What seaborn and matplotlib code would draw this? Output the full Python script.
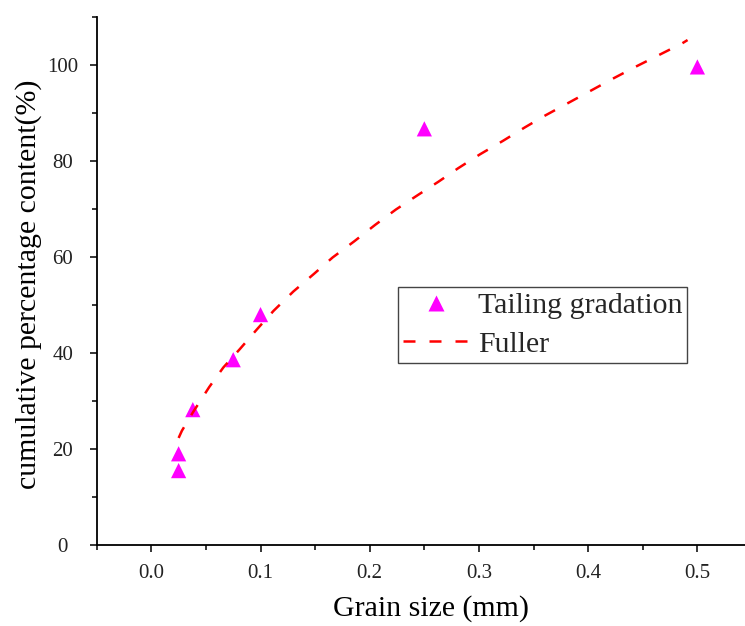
import matplotlib
matplotlib.use("Agg")
import matplotlib.pyplot as plt
from matplotlib.lines import Line2D
from matplotlib.ticker import MultipleLocator
import seaborn as sns

# Measured tailing gradation (grain size in mm, cumulative passing in %)
grain_size = [0.025, 0.025, 0.038, 0.075, 0.100, 0.250, 0.500]
passing = [15.5, 19.0, 28.2, 38.6, 48.0, 86.7, 99.6]

# Fuller ideal gradation curve
fuller_size = [0.025, 0.028, 0.038, 0.053, 0.066, 0.081, 0.097, 0.112, 0.130,
               0.149, 0.166, 0.186, 0.205, 0.224, 0.244, 0.263, 0.281, 0.301,
               0.322, 0.342, 0.360, 0.381, 0.402, 0.423, 0.444, 0.465, 0.486,
               0.491]
fuller_passing = [22.3, 23.8, 27.6, 32.9, 37.0, 40.8, 45.0, 48.8, 52.8,
                  56.5, 59.9, 63.3, 66.7, 69.9, 72.9, 75.7, 78.5, 81.4,
                  84.2, 87.0, 89.4, 92.0, 94.6, 97.2, 99.7, 102.1, 104.5,
                  105.2]

x_ticks = [0.0, 0.1, 0.2, 0.3, 0.4, 0.5]
x_tick_labels = ["0.0", "0.1", "0.2", "0.3", "0.4", "0.5"]
y_ticks = [0, 20, 40, 60, 80, 100]
y_tick_labels = ["0", "20", "40", "60", "80", "100"]

sns.set_theme(style="ticks")
plt.rcParams["font.family"] = ["Liberation Serif", "DejaVu Serif"]

W, H = 745, 626
fig = plt.figure(figsize=(W / 100, H / 100), dpi=100)
ax = fig.add_axes([96.7 / W, 81 / H, (752 - 96.7) / W, (545 - 17) / H])

marker_color = "#FF00FF"
line_color = "#FF0000"
fuller_dash = (0, (4.8, 5.6))

sns.scatterplot(x=grain_size, y=passing, marker="^", s=120, color=marker_color,
                edgecolor="none", linewidth=0, ax=ax, legend=False, zorder=2)
sns.lineplot(x=fuller_size, y=fuller_passing, color=line_color, linewidth=1.8,
             linestyle=fuller_dash, ax=ax, legend=False, zorder=3,
             estimator=None, sort=False)

ax.set_xlim(-0.05, 0.55)
ax.set_ylim(0, 110)
ax.set_xticks(x_ticks, x_tick_labels)
ax.set_yticks(y_ticks, y_tick_labels)
ax.xaxis.set_minor_locator(MultipleLocator(0.05))
ax.yaxis.set_minor_locator(MultipleLocator(10))

for side in ("top", "right"):
    ax.spines[side].set_visible(False)
for side in ("left", "bottom"):
    ax.spines[side].set_linewidth(1.3)
    ax.spines[side].set_color("black")

ax.tick_params(axis="both", which="major", direction="out", length=5,
               width=1.1, color="black", labelsize=15, labelcolor="#222222")
ax.tick_params(axis="both", which="minor", direction="out", length=3.3,
               width=1.1, color="black")
ax.tick_params(axis="y", which="major", pad=19.5)
ax.tick_params(axis="x", which="major", pad=9)
plt.setp(ax.get_yticklabels(), ha="center")

ax.set_xlabel("Grain size (mm)", fontsize=21.5, color="black")
ax.set_ylabel("cumulative percentage content(%)", fontsize=21.5, color="black")
ax.xaxis.set_label_coords((431 - 96.7) / (752 - 96.7), -(609 - 545) / 528)
ax.xaxis.label.set_va("center")
ax.yaxis.set_label_coords(-(96.7 - 29) / (752 - 96.7), (545 - 284) / 528)
ax.yaxis.label.set_va("center")

handles = [
    Line2D([], [], marker="^", linestyle="none", markersize=11,
           markerfacecolor=marker_color, markeredgecolor="none"),
    Line2D([], [], color=line_color, linewidth=1.8, linestyle=fuller_dash),
]
leg = ax.legend(handles, ["Tailing gradation", "Fuller"], loc="upper left",
                bbox_to_anchor=((398 - 96.7) / (752 - 96.7), (545 - 287) / 528),
                fontsize=21.5, frameon=True, fancybox=False, framealpha=1,
                edgecolor="#444444", borderpad=0.17, borderaxespad=0,
                handlelength=2.2, handletextpad=0.3, labelspacing=0.4)
leg.get_frame().set_linewidth(1.0)

fig.savefig("out.png", dpi=100)
